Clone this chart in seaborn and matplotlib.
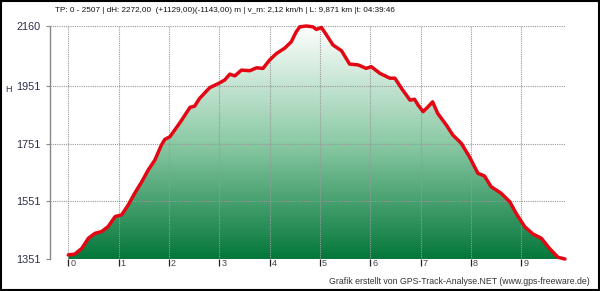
import matplotlib
matplotlib.use("Agg")
import matplotlib.pyplot as plt
import matplotlib.transforms as mtransforms
from matplotlib.colors import LinearSegmentedColormap
from matplotlib.patches import PathPatch
import numpy as np
import pandas as pd
import seaborn as sns

km = [0.00, 0.13, 0.27, 0.40, 0.53, 0.66, 0.79, 0.93, 1.06, 1.19, 1.32, 1.46, 1.59,
      1.72, 1.85, 1.92, 2.02, 2.22, 2.42, 2.51, 2.61, 2.81, 3.01, 3.11, 3.21, 3.31,
      3.44, 3.61, 3.74, 3.87, 4.00, 4.14, 4.30, 4.43, 4.53, 4.60, 4.73, 4.86, 4.93,
      5.03, 5.13, 5.26, 5.43, 5.59, 5.76, 5.92, 6.02, 6.19, 6.39, 6.49, 6.62, 6.79,
      6.88, 6.95, 7.05, 7.15, 7.24, 7.34, 7.51, 7.64, 7.81, 7.97, 8.14, 8.27, 8.40,
      8.60, 8.77, 8.90, 9.07, 9.23, 9.40, 9.56, 9.73, 9.87]
elev = [1365, 1368, 1388, 1423, 1440, 1446, 1463, 1498, 1504, 1538, 1579, 1619, 1660,
        1694, 1746, 1766, 1775, 1824, 1877, 1881, 1908, 1945, 1962, 1972, 1992, 1986,
        2006, 2004, 2014, 2012, 2041, 2064, 2082, 2104, 2139, 2156, 2159, 2156, 2147,
        2154, 2128, 2093, 2073, 2027, 2024, 2012, 2018, 1995, 1978, 1978, 1943, 1902,
        1905, 1885, 1862, 1879, 1896, 1856, 1816, 1781, 1752, 1706, 1648, 1639, 1602,
        1579, 1550, 1509, 1463, 1438, 1423, 1388, 1357, 1351]
y_ticks = [1351, 1551, 1751, 1951, 2160]
x_ticks = [0, 1, 2, 3, 4, 5, 6, 7, 8, 9]
title_text = "TP: 0 - 2507 | dH: 2272,00  (+1129,00)(-1143,00) m | v_m: 2,12 km/h | L: 9,871 km |t: 04:39:46"
footer_text = "Grafik erstellt von GPS-Track-Analyse.NET (www.gps-freeware.de)"

sns.set_style("white")
plt.rcParams['font.family'] = ['Liberation Sans', 'DejaVu Sans']

df = pd.DataFrame({"km": km, "H": elev})

fig = plt.figure(figsize=(6.0, 2.91), dpi=100)
ax = fig.add_axes([50/600, 1-259/291, 515/600, (259-25.7)/291])

ymin, ymax = 1351, 2160
xmin, xmax = -0.363, 9.87
ax.set_xlim(xmin, xmax)
ax.set_ylim(ymin, ymax)

# gradient fill clipped to the area below the profile
poly = ax.fill_between(df["km"], df["H"], ymin, color="none", lw=0)
cmap = LinearSegmentedColormap.from_list("g", ["#04773a", "#8ccaa6", "#ffffff"])
grad = np.linspace(0, 1, 256).reshape(-1, 1)
im = ax.imshow(grad, extent=[xmin, xmax, ymin, ymax], origin="lower",
               aspect="auto", cmap=cmap, zorder=1)
path = poly.get_paths()[0]
patch = PathPatch(path, transform=ax.transData, facecolor="none", edgecolor="none")
ax.add_patch(patch)
im.set_clip_path(patch)

# grid
for t in x_ticks:
    ax.axvline(t, color="#999999", lw=0.8, ls=(0, (1, 1)), zorder=2)
for t in y_ticks:
    ax.axhline(t, color="#999999", lw=0.8, ls=(0, (1, 1)), zorder=2)

sns.lineplot(data=df, x="km", y="H", ax=ax, color="#e30613", lw=2.5, zorder=3,
             solid_joinstyle="round", solid_capstyle="round", clip_on=False)

for s in ["top", "right", "bottom"]:
    ax.spines[s].set_visible(False)
ax.spines["left"].set_color("#888888")
ax.spines["left"].set_linewidth(1.0)

ax.set_xticks(x_ticks)
ax.set_xticklabels([str(t) for t in x_ticks])
ax.set_yticks(y_ticks)
ax.set_yticklabels([str(t) for t in y_ticks])
ax.tick_params(axis="x", direction="out", length=5, width=0.9, color="#222222",
               pad=-5, labelsize=6.5, labelcolor="#444444", bottom=True)
ax.tick_params(axis="y", direction="out", length=3, width=0.8, color="#888888",
               pad=4, labelsize=7.8, labelcolor="#2b2d4a", left=True)
offset = mtransforms.ScaledTranslation(2/100, 0, fig.dpi_scale_trans)
for lab in ax.get_xticklabels():
    lab.set_ha("left")
    lab.set_transform(lab.get_transform() + offset)
ax.set_xlabel("")
ax.set_ylabel("")

fig.text(8/600, 1-90/291, "H", fontsize=6.5, color="#2b2d4a", ha="center", va="center")
fig.text(55/600, 1-10/291, title_text, fontsize=5.9, color="#111111", ha="left", va="center")
fig.text(590/600, 1-281/291, footer_text, fontsize=6.3, color="#333333", ha="right", va="center")

border = plt.Rectangle((0.001, 0.002), 0.997, 0.995, transform=fig.transFigure,
                       fill=False, edgecolor="black", lw=1.5)
fig.patches.append(border)

fig.savefig("out.png", dpi=100)
